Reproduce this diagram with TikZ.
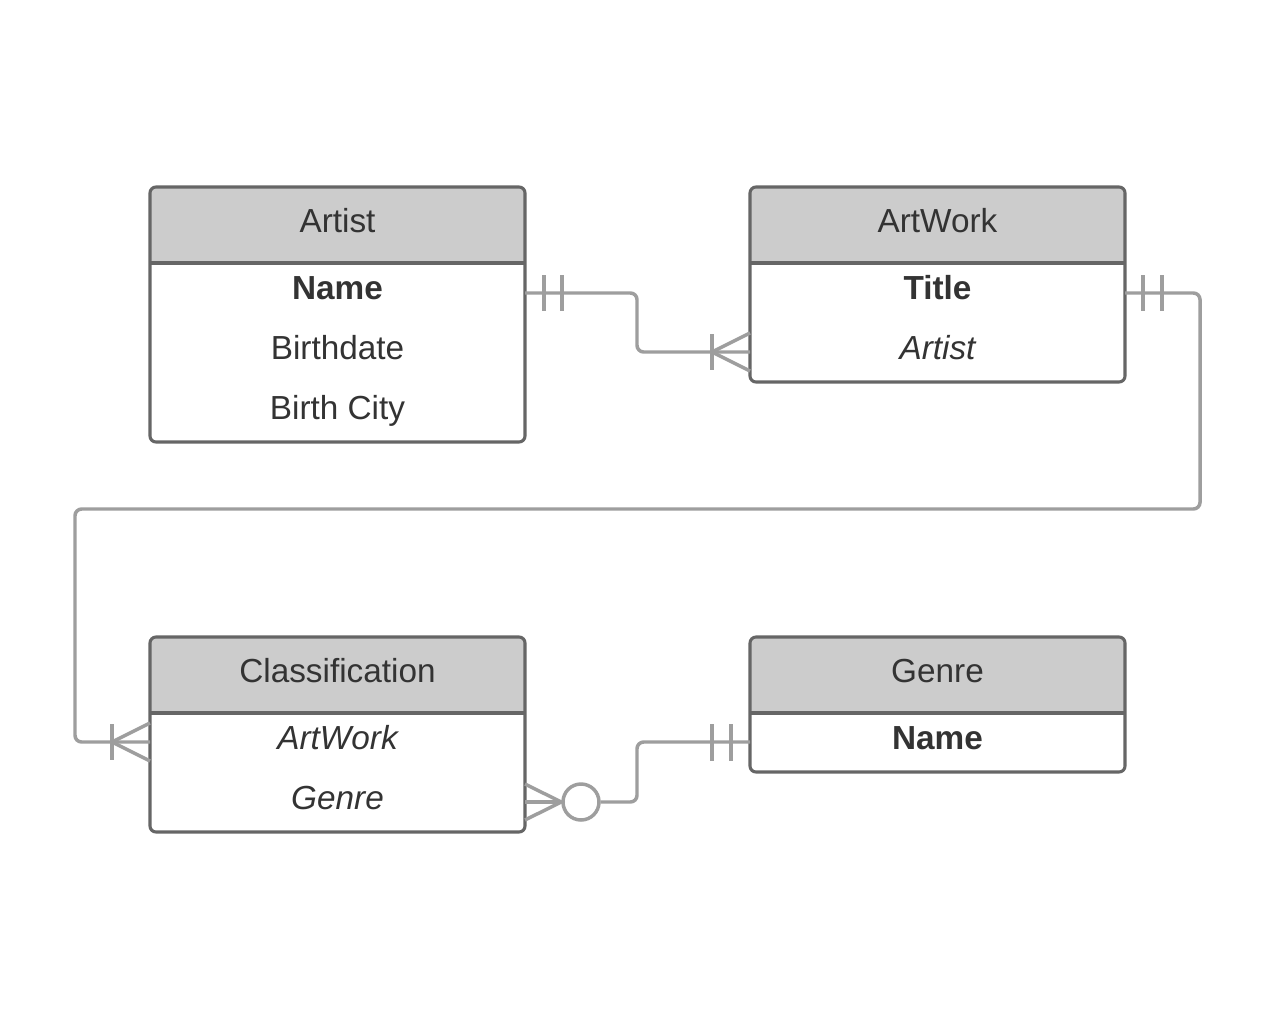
\documentclass[tikz,border=0pt]{standalone}
\usepackage{fontspec}
\setmainfont{Liberation Sans}
\usetikzlibrary{calc}
\definecolor{bord}{HTML}{666666}
\definecolor{hdr}{HTML}{CCCCCC}
\definecolor{conncol}{HTML}{9E9E9E}
\definecolor{txtcol}{HTML}{333333}
\begin{document}
\begin{tikzpicture}[x=0.75pt,y=-0.75pt,
  entity/.style={draw=bord, line width=2.3pt, rounded corners=4.5pt,
    minimum width=281.25pt, inner sep=0pt,
    path picture={
      \fill[hdr] (path picture bounding box.north west) rectangle ([yshift=-57pt]path picture bounding box.north east);
      \draw[bord, line width=2.3pt] ([yshift=-57pt]path picture bounding box.north west) -- ([yshift=-57pt]path picture bounding box.north east);
    }},
  txt/.style={anchor=base, inner sep=0pt, text=txtcol, font=\fontsize{25}{29}\selectfont},
  conn/.style={draw=conncol, line width=2.6pt},
  link/.style={conn, rounded corners=5pt}
]
\useasboundingbox[fill=white] (0,0) rectangle (1280,1031);

% entities
\node[entity, minimum height=191.25pt] (artist) at (337.5,314.5) {};
\node[entity, minimum height=146.25pt] (artwork) at (937.5,284.5) {};
\node[entity, minimum height=146.25pt] (classif) at (337.5,734.5) {};
\node[entity, minimum height=101.25pt] (genre) at (937.5,704.5) {};

% texts
\node[txt] (artistH) at (337.5,232) {Artist};
\node[txt] (artistName) at (337.5,299) {\bfseries Name};
\node[txt] (artistBD) at (337.5,359) {Birthdate};
\node[txt] (artistBC) at (337.5,419) {Birth City};

\node[txt] (artworkH) at (937.5,232) {ArtWork};
\node[txt] (artworkTitle) at (937.5,299) {\bfseries Title};
\node[txt] (artworkArtist) at (937.5,359) {\itshape Artist};

\node[txt] (classifH) at (337.5,682) {Classification};
\node[txt] (classifAW) at (337.5,749) {\itshape ArtWork};
\node[txt] (classifG) at (337.5,809) {\itshape Genre};

\node[txt] (genreH) at (937.5,682) {Genre};
\node[txt] (genreName) at (937.5,749) {\bfseries Name};

% connection points
\coordinate (pArtistName) at (525,293);
\coordinate (pArtworkArtist) at (750,352);
\coordinate (pArtworkTitle) at (1125,293);
\coordinate (pClassifAW) at (150,742);
\coordinate (pClassifG) at (525,802);
\coordinate (pGenreName) at (750,742);

% connector 1: Artist -- ArtWork
\draw[link] (pArtistName) -- (637,293) -- (637,352) -- (pArtworkArtist);
\draw[conn] (544,275) -- (544,311) (562,275) -- (562,311);
\draw[conn] (712,334) -- (712,370);
\draw[conn] (750,333) -- (712,352) -- (750,371);

% connector 2: ArtWork -- Classification
\draw[link] (pArtworkTitle) -- (1200,293) -- (1200,509) -- (75,509) -- (75,742) -- (pClassifAW);
\draw[conn] (1143,275) -- (1143,311) (1162,275) -- (1162,311);
\draw[conn] (112,724) -- (112,760);
\draw[conn] (150,723) -- (112,742) -- (150,761);

% connector 3: Classification -- Genre
\node[conn, circle, minimum size=27pt, inner sep=0pt, fill=white] (zero) at (581,802) {};
\draw[link] (zero.east) -- (637,802) -- (637,742) -- (pGenreName);
\draw[conn] (pClassifG) -- (zero.west);
\draw[conn] (525,784) -- (zero.west) -- (525,820);
\draw[conn] (712,724) -- (712,761) (731,724) -- (731,761);
\end{tikzpicture}
\end{document}
